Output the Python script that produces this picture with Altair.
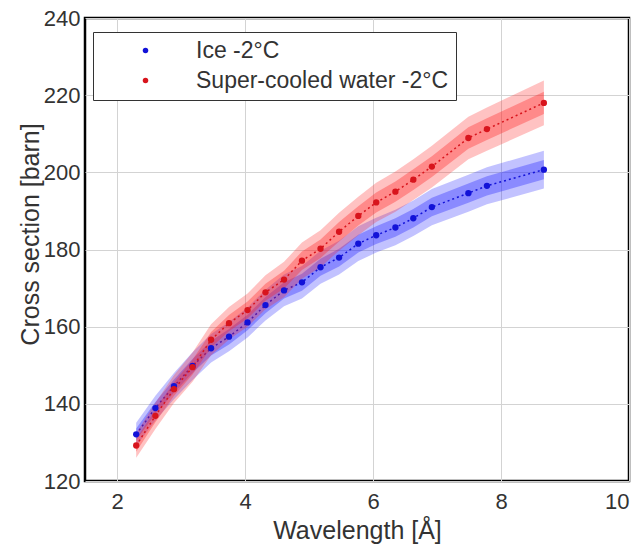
import altair as alt
import pandas as pd

wavelength = [2.30, 2.60, 2.89, 3.18, 3.47, 3.75, 4.04, 4.32, 4.61, 4.89,
              5.18, 5.47, 5.77, 6.05, 6.35, 6.63, 6.92, 7.49, 7.78, 8.67]
ice = [132.1, 138.9, 144.6, 149.8, 154.4, 157.4, 161.1, 165.6, 169.4, 171.5,
       175.4, 177.9, 181.5, 183.7, 185.7, 188.1, 191.0, 194.6, 196.5, 200.7]
water = [129.2, 136.9, 143.8, 149.5, 156.6, 160.9, 164.3, 168.9, 172.2, 177.1,
         180.2, 184.6, 188.7, 192.2, 195.0, 198.1, 201.5, 208.9, 211.2, 218.0]
ice_inner = [1.5, 1.6, 1.7, 1.8, 1.9, 2.0, 2.0, 2.1, 2.1, 2.2,
             2.2, 2.3, 2.3, 2.3, 2.4, 2.4, 2.4, 2.5, 2.5, 2.5]
ice_outer = [3.0, 3.2, 3.4, 3.6, 3.7, 3.8, 3.9, 4.0, 4.1, 4.2,
             4.3, 4.4, 4.5, 4.5, 4.6, 4.6, 4.7, 4.8, 4.8, 4.9]
water_inner = [1.6, 1.7, 1.8, 1.9, 2.0, 2.1, 2.2, 2.2, 2.3, 2.4,
               2.4, 2.5, 2.5, 2.6, 2.6, 2.7, 2.7, 2.8, 2.8, 2.9]
water_outer = [3.2, 3.4, 3.6, 3.8, 4.0, 4.2, 4.3, 4.4, 4.6, 4.7,
               4.8, 4.9, 5.0, 5.1, 5.2, 5.3, 5.4, 5.5, 5.6, 5.8]

series_names = ["Ice -2°C", "Super-cooled water -2°C"]
point_colors = ["#1212d8", "#d8141c"]
band_colors = ["#2323ff", "#ff2323"]

rows = []
for name, vals, inner, outer in [
    (series_names[0], ice, ice_inner, ice_outer),
    (series_names[1], water, water_inner, water_outer),
]:
    for lam, v, a, b in zip(wavelength, vals, inner, outer):
        rows.append({"series": name, "lam": lam, "cs": v,
                     "lo1": v - a, "hi1": v + a, "lo2": v - b, "hi2": v + b})
df = pd.DataFrame(rows)

x = alt.X("lam:Q", scale=alt.Scale(domain=[1.5, 10], nice=False, zero=False),
          axis=alt.Axis(values=[2, 4, 6, 8, 10], title="Wavelength [Å]",
                        labelPadding=10, titleY=57, titleBaseline="alphabetic"))
y = alt.Y("cs:Q", scale=alt.Scale(domain=[120, 240], nice=False, zero=False),
          axis=alt.Axis(values=[120, 140, 160, 180, 200, 220, 240], title="Cross section [barn]",
                        labelPadding=5, titleX=-47, titleY=216, titleBaseline="alphabetic"))

base = alt.Chart(df)

layers = []
for name, bcol, pcol in zip(series_names, band_colors, point_colors):
    sub = base.transform_filter(alt.datum.series == name)
    layers.append(sub.mark_area(opacity=0.28, color=bcol).encode(
        x=x, y=alt.Y("lo2:Q"), y2="hi2:Q"))
    layers.append(sub.mark_area(opacity=0.35, color=bcol).encode(
        x=x, y=alt.Y("lo1:Q"), y2="hi1:Q"))
    layers.append(sub.mark_line(strokeDash=[2, 3], strokeWidth=1.5, color=pcol).encode(
        x=x, y=y))

points = base.mark_circle(size=40, opacity=1).encode(
    x=x, y=y,
    color=alt.Color("series:N", scale=alt.Scale(domain=series_names, range=point_colors),
                    legend=alt.Legend(title=None, orient="none", legendX=8, legendY=14,
                                      symbolSize=30, symbolType="circle",
                                      symbolOffset=34, labelOffset=39,
                                      labelFontSize=23, labelColor="#333333",
                                      labelFont="Liberation Sans",
                                      rowPadding=6, padding=7,
                                      strokeColor="#333333", fillColor="white",
                                      labelLimit=400)),
)
layers.append(points)

chart = alt.layer(*layers).properties(
    width=544, height=463,
    autosize=alt.AutoSizeParams(type="none"),
    padding={"left": 85, "top": 18, "right": 14, "bottom": 64},
).configure_view(
    stroke="black", strokeWidth=2.5
).configure_axis(
    labelFont="Liberation Sans", titleFont="Liberation Sans",
    labelFontSize=22, titleFontSize=25, labelColor="#333333", titleColor="#333333",
    titleFontWeight="normal", gridColor="#d3d3d3", gridWidth=1,
    domain=False, ticks=False,
)

chart.save("out.html", embed_options={"renderer": "svg", "actions": False})
